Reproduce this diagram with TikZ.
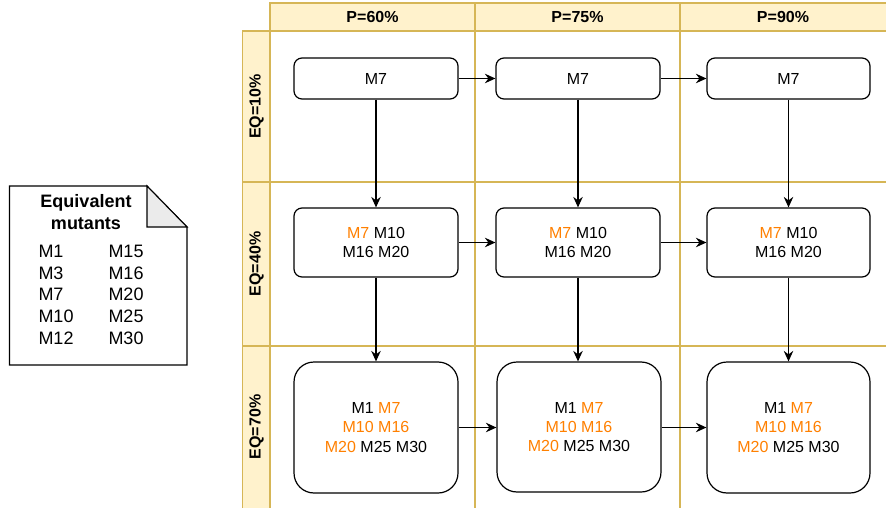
\documentclass[tikz,border=0pt]{standalone}
\usepackage{fontspec}
\setmainfont{Liberation Sans}
\usetikzlibrary{arrows.meta}
\definecolor{lanefill}{HTML}{FFF2CC}
\definecolor{lanedraw}{HTML}{D6B656}
\definecolor{mut}{HTML}{FF8000}
\definecolor{foldgray}{HTML}{EBEBEB}
\begin{document}
\begin{tikzpicture}[x=1pt,y=-1pt,
  box/.style={draw=black, line width=1.2pt, rounded corners=8pt, fill=white,
    align=center, font=\fontsize{16}{19.2}\selectfont, inner sep=0pt,
    minimum width=164pt},
  bigbox/.style={box, rounded corners=20pt, minimum height=131pt},
  arr/.style={-{Stealth[length=10.5pt,width=9.5pt,inset=3.5pt]}, line width=1.2pt},
  lane/.style={draw=lanedraw, fill=lanefill, line width=1.4pt},
  gridline/.style={draw=lanedraw, line width=1.4pt},
  headtxt/.style={font=\bfseries\fontsize{16}{19.2}\selectfont},
  doctxt/.style={font=\fontsize{18}{21.6}\selectfont, inner sep=0pt},
  doctitle/.style={font=\bfseries\fontsize{18}{21.6}\selectfont, inner sep=0pt}]
\useasboundingbox (0,0) rectangle (886,508);
\fill[white] (0,0) rectangle (886,508);
% grid (clipped at picture edge)
\begin{scope}
\clip (0,0) rectangle (886,508);
\path[lane] (270,3) rectangle (475,31);
\path[lane] (475,3) rectangle (680,31);
\path[lane] (680,3) rectangle (895,31);
\path[lane] (242.5,31) rectangle (270,182);
\path[lane] (242.5,182) rectangle (270,346);
\path[lane] (242.5,346) rectangle (270,515);
\draw[gridline] (475,31) -- (475,515);
\draw[gridline] (680,31) -- (680,515);
\draw[gridline] (270,182) -- (895,182);
\draw[gridline] (270,346) -- (895,346);
\end{scope}
\node[headtxt] (h1) at (372.5,17) {P=60\%};
\node[headtxt] (h2) at (577.5,17) {P=75\%};
\node[headtxt] (h3) at (783,17) {P=90\%};
\node[headtxt, rotate=90] (r1) at (256.5,106.5) {EQ=10\%};
\node[headtxt, rotate=90] (r2) at (256.5,264) {EQ=40\%};
\node[headtxt, rotate=90] (r3) at (256.5,427) {EQ=70\%};
% boxes
\node[box, minimum height=41pt] (a1) at (376,78.5) {M7};
\node[box, minimum height=41pt] (a2) at (578,78.5) {M7};
\node[box, minimum height=41pt, minimum width=163pt] (a3) at (788.5,78.5) {M7};
\node[box, minimum height=69pt] (b1) at (376,242.5) {\textcolor{mut}{M7} M10\\M16 M20};
\node[box, minimum height=69pt] (b2) at (578,242.5) {\textcolor{mut}{M7} M10\\M16 M20};
\node[box, minimum height=69pt, minimum width=163pt] (b3) at (788.5,242.5) {\textcolor{mut}{M7} M10\\M16 M20};
\node[bigbox] (c1) at (376,427.5) {M1 \textcolor{mut}{M7}\\\textcolor{mut}{M10 M16}\\\textcolor{mut}{M20} M25 M30};
\node[bigbox, minimum height=130pt] (c2) at (579,427) {M1 \textcolor{mut}{M7}\\\textcolor{mut}{M10 M16}\\\textcolor{mut}{M20} M25 M30};
\node[bigbox, minimum width=163pt] (c3) at (788.5,427.5) {M1 \textcolor{mut}{M7}\\\textcolor{mut}{M10 M16}\\\textcolor{mut}{M20} M25 M30};
% arrows
\draw[arr] (a1.east) -- (a2.west);
\draw[arr] (a2.east) -- (a3.west);
\draw[arr] (b1.east) -- (b2.west);
\draw[arr] (b2.east) -- (b3.west);
\draw[arr] (c1.east) -- (c2.west |- c1.east);
\draw[arr] (c2.east |- c3.west) -- (c3.west);
\draw[arr] (a1.south) -- (b1.north);
\draw[arr] (a2.south) -- (b2.north);
\draw[arr] (a3.south) -- (b3.north);
\draw[arr] (b1.south) -- (c1.north);
\draw[arr] (b2.south) -- (c2.north -| b2.south);
\draw[arr] (b3.south) -- (c3.north);
% note shape
\draw[line width=1.1pt, fill=white] (9.5,186) -- (147,186) -- (187,227) -- (187,365) -- (9.5,365) -- cycle;
\draw[line width=1.1pt, fill=foldgray] (147,186) -- (147,227) -- (187,227) -- cycle;
\node[doctitle, anchor=base] (t1) at (86,207.7) {Equivalent};
\node[doctitle, anchor=base] (t2) at (86,229) {mutants};
\foreach \n/\a/\b [count=\i] in {257.3/M1/M15, 279/M3/M16, 300.7/M7/M20, 322.3/M10/M25, 344/M12/M30}{
  \node[doctxt, anchor=base west] (la\i) at (38.3,\n) {\a};
  \node[doctxt, anchor=base west] (lb\i) at (108.3,\n) {\b};
}
\end{tikzpicture}
\end{document}
